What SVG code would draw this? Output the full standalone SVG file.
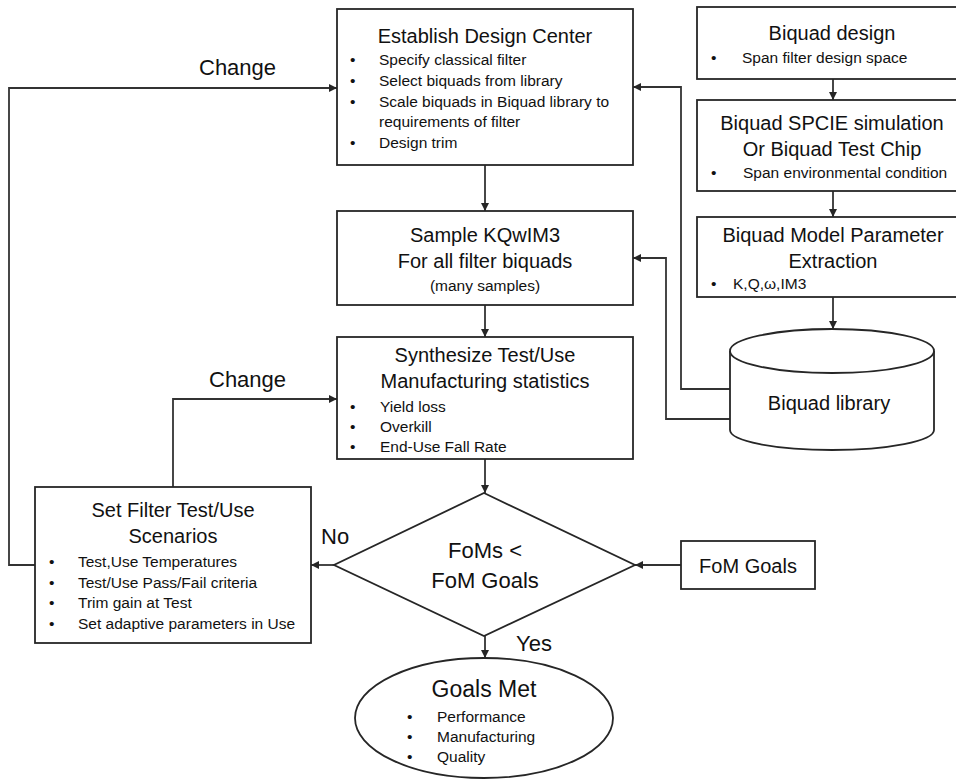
<svg xmlns="http://www.w3.org/2000/svg" width="956" height="781" viewBox="0 0 956 781">
  <defs>
    <marker id="arrow" viewBox="0 0 10 10" refX="10" refY="5" markerWidth="9" markerHeight="8" markerUnits="userSpaceOnUse" orient="auto">
      <path d="M0,0 L10,5 L0,10 z" fill="#262626"/>
    </marker>
    <style>
      .box { fill: #ffffff; stroke: #262626; stroke-width: 1.8; }
      .edge { fill: none; stroke: #333333; stroke-width: 1.8; marker-end: url(#arrow); }
      .line { fill: none; stroke: #333333; stroke-width: 1.8; }
      text { font-family: "Liberation Sans", Arial, sans-serif; fill: #111111; }
      .title { font-size: 20px; text-anchor: middle; }
      .item { font-size: 15.5px; }
      .label { font-size: 22px; }
      .big { font-size: 22px; text-anchor: middle; }
    </style>
  </defs>

  <!-- connectors -->
  <g id="connectors">
    <path class="edge" d="M833,79 V100"/>
    <path class="edge" d="M833,191 V217"/>
    <path class="edge" d="M833,297 V329"/>
    <path class="edge" d="M730,389 H681 V87 H633"/>
    <path class="edge" d="M730,419 H666 V258 H633"/>
    <path class="edge" d="M485,165 V211"/>
    <path class="edge" d="M485,305 V337"/>
    <path class="edge" d="M485,459 V493"/>
    <path class="edge" d="M334,565 H311"/>
    <path class="edge" d="M681,565 H635"/>
    <path class="edge" d="M485,636 V658"/>
    <path class="edge" d="M35,565 H9 V88 H337"/>
    <path class="edge" d="M173,487 V399 H337"/>
    <text class="label" x="199" y="75">Change</text>
    <text class="label" x="209" y="387">Change</text>
    <text class="label" x="321" y="544">No</text>
    <text class="label" x="516" y="651">Yes</text>
  </g>

  <g id="establish">
    <rect class="box" x="337" y="9" width="296" height="156"/>
    <text class="title" x="485" y="43">Establish Design Center</text>
    <text class="item" x="350" y="65">•</text><text class="item" x="379" y="65">Specify classical filter</text>
    <text class="item" x="350" y="86">•</text><text class="item" x="379" y="86">Select biquads from library</text>
    <text class="item" x="350" y="107">•</text><text class="item" x="379" y="107">Scale biquads in Biquad library to</text>
    <text class="item" x="379" y="127">requirements of filter</text>
    <text class="item" x="350" y="148">•</text><text class="item" x="379" y="148">Design trim</text>
  </g>

  <g id="sample">
    <rect class="box" x="337" y="211" width="296" height="94"/>
    <text class="title" x="485" y="242">Sample KQwIM3</text>
    <text class="title" x="485" y="268">For all filter biquads</text>
    <text class="item" x="485" y="291" text-anchor="middle">(many samples)</text>
  </g>

  <g id="synthesize">
    <rect class="box" x="337" y="337" width="296" height="122"/>
    <text class="title" x="485" y="362">Synthesize Test/Use</text>
    <text class="title" x="485" y="388">Manufacturing statistics</text>
    <text class="item" x="350" y="412">•</text><text class="item" x="380" y="412">Yield loss</text>
    <text class="item" x="350" y="432">•</text><text class="item" x="380" y="432">Overkill</text>
    <text class="item" x="350" y="452">•</text><text class="item" x="380" y="452">End-Use Fall Rate</text>
  </g>

  <g id="biquad-design">
    <rect class="box" x="697" y="7" width="272" height="72"/>
    <text class="title" x="832" y="40">Biquad design</text>
    <text class="item" x="711" y="63">•</text><text class="item" x="742" y="63">Span filter design space</text>
  </g>

  <g id="biquad-simulation">
    <rect class="box" x="697" y="100" width="272" height="91"/>
    <text class="title" x="832" y="130">Biquad SPCIE simulation</text>
    <text class="title" x="832" y="156">Or Biquad Test Chip</text>
    <text class="item" x="711" y="178">•</text><text class="item" x="743" y="178">Span environmental condition</text>
  </g>

  <g id="biquad-extraction">
    <rect class="box" x="697" y="217" width="272" height="80"/>
    <text class="title" x="833" y="242">Biquad Model Parameter</text>
    <text class="title" x="833" y="268">Extraction</text>
    <text class="item" x="711" y="289">•</text><text class="item" x="733" y="289">K,Q,ω,IM3</text>
  </g>

  <g id="biquad-library">
    <path class="box" d="M730,351 V430 A102,20 0 0,0 934,430 V351"/>
    <ellipse class="box" cx="832" cy="351" rx="102" ry="22"/>
    <text class="title" x="829" y="410">Biquad library</text>
  </g>

  <g id="set-filter">
    <rect class="box" x="35" y="487" width="276" height="156"/>
    <text class="title" x="173" y="517">Set Filter Test/Use</text>
    <text class="title" x="173" y="543">Scenarios</text>
    <text class="item" x="49" y="567">•</text><text class="item" x="78" y="567">Test,Use Temperatures</text>
    <text class="item" x="49" y="588">•</text><text class="item" x="78" y="588">Test/Use Pass/Fail criteria</text>
    <text class="item" x="49" y="608">•</text><text class="item" x="78" y="608">Trim gain at Test</text>
    <text class="item" x="49" y="629">•</text><text class="item" x="78" y="629">Set adaptive parameters in Use</text>
  </g>

  <g id="decision">
    <polygon class="box" points="484,493 635,565 484,636 334,565"/>
    <text class="big" x="485" y="558">FoMs &lt;</text>
    <text class="big" x="485" y="588">FoM Goals</text>
  </g>

  <g id="fom-goals">
    <rect class="box" x="681" y="541" width="134" height="48"/>
    <text class="title" x="748" y="573">FoM Goals</text>
  </g>

  <g id="goals-met">
    <ellipse class="box" cx="484" cy="718" rx="129" ry="60"/>
    <text class="big" x="484" y="697" style="font-size:23px">Goals Met</text>
    <text class="item" x="407" y="722">•</text><text class="item" x="437" y="722">Performance</text>
    <text class="item" x="407" y="742">•</text><text class="item" x="437" y="742">Manufacturing</text>
    <text class="item" x="407" y="762">•</text><text class="item" x="437" y="762">Quality</text>
  </g>
</svg>
